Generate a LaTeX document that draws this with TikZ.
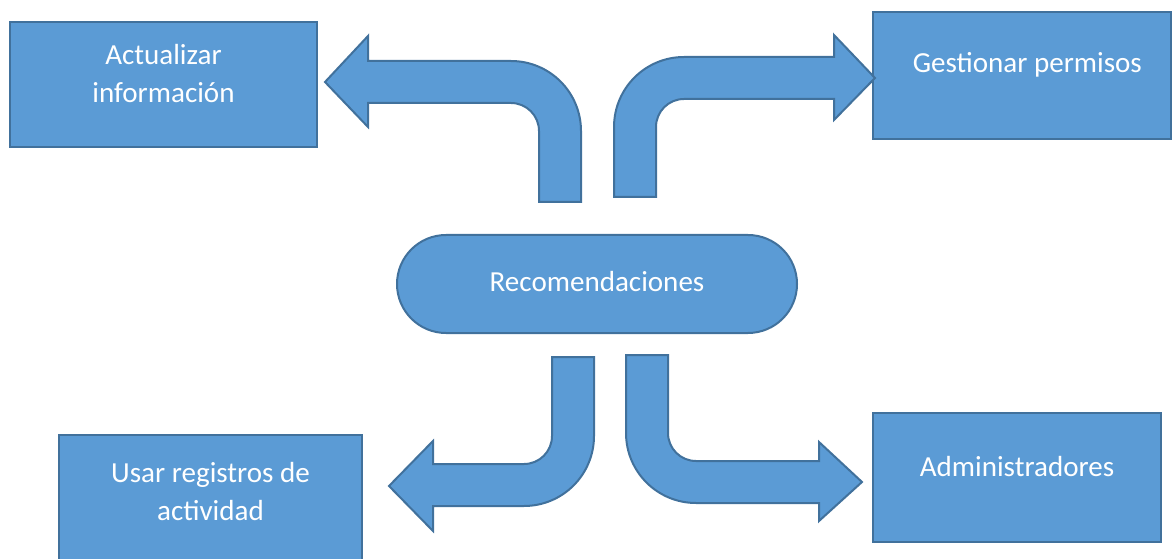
\documentclass[tikz,border=0pt]{standalone}
\usepackage{fontspec}
\setmainfont{Carlito}
\usepackage{tikz}

\definecolor{shapefill}{RGB}{91,155,213}
\definecolor{shapeline}{RGB}{65,113,156}

\begin{document}
\begin{tikzpicture}[x=0.75pt,y=0.75pt,yscale=-1,xscale=1,
  blk/.style={draw=shapeline, fill=shapefill, line width=1.5pt, line join=miter},
  box/.style={blk, rectangle, inner sep=0pt},
  txt/.style={text=white, font=\fontsize{21.8}{28.5}\selectfont, align=center, inner sep=0.75pt}]
\useasboundingbox (0,0) rectangle (1173,559);
\clip (0,0) rectangle (1173,559);

%Shape: Rectangle [id:act]
\node [box, minimum width=230.25pt, minimum height=93.75pt] (act) at (163.5,84.5) {};
%Shape: Rectangle [id:ges]
\node [box, minimum width=223.5pt, minimum height=95.25pt] (ges) at (1022,75.5) {};
%Shape: Rectangle [id:usr]
\node [box, minimum width=227.25pt, minimum height=108.75pt] (usr) at (210.5,507.5) {};
%Shape: Rectangle [id:adm]
\node [box, minimum width=216pt, minimum height=96.75pt] (adm) at (1017,477.5) {};
%Shape: Rounded Rectangle [id:rec]
\node [box, rounded corners=36.75pt, minimum width=300pt, minimum height=73.5pt] (rec) at (597,284) {};

%Shape: Bent Arrow [id:toact]
\draw [blk] (539,202) -- (539,131) .. controls (539,115.5) and (526.5,103) .. (511,103) -- (368,103) -- (368,127) -- (325,82) -- (368,36) -- (368,61) -- (511,61) .. controls (549.7,61) and (581,92.3) .. (581,131) -- (581,202) -- cycle ;
%Shape: Bent Arrow [id:toges]
\draw [blk] (614,197) -- (614,127) .. controls (614,88.3) and (645.3,57) .. (684,57) -- (834,57) -- (834,35) -- (875,78) -- (834,120) -- (834,99) -- (684,99) .. controls (668.5,99) and (656,111.5) .. (656,127) -- (656,197) -- cycle ;
%Shape: Bent Arrow [id:tousr]
\draw [blk] (552,357) -- (552,436) .. controls (552,451.5) and (539.5,464) .. (524,464) -- (433,464) -- (433,441) -- (389,486) -- (433,531) -- (433,506) -- (524,506) .. controls (562.7,506) and (594,474.7) .. (594,436) -- (594,357) -- cycle ;
%Shape: Bent Arrow [id:toadm]
\draw [blk] (626,355) -- (626,433) .. controls (626,471.7) and (657.3,503) .. (696,503) -- (819,503) -- (819,521) -- (862,482) -- (819,442) -- (819,461) -- (696,461) .. controls (680.5,461) and (668,448.5) .. (668,433) -- (668,355) -- cycle ;

% Text Node
\node [txt, yshift=8pt] (actT) at (act) {Actualizar\\información};
% Text Node
\node [txt, yshift=8pt, xshift=4pt] (gesT) at (ges) {Gestionar permisos};
% Text Node
\node [txt, yshift=12pt] (usrT) at (usr) {Usar registros de\\actividad};
% Text Node
\node [txt, yshift=8pt] (admT) at (adm) {Administradores};
% Text Node
\node [txt, yshift=2pt] (recT) at (rec) {Recomendaciones};

\end{tikzpicture}
\end{document}
